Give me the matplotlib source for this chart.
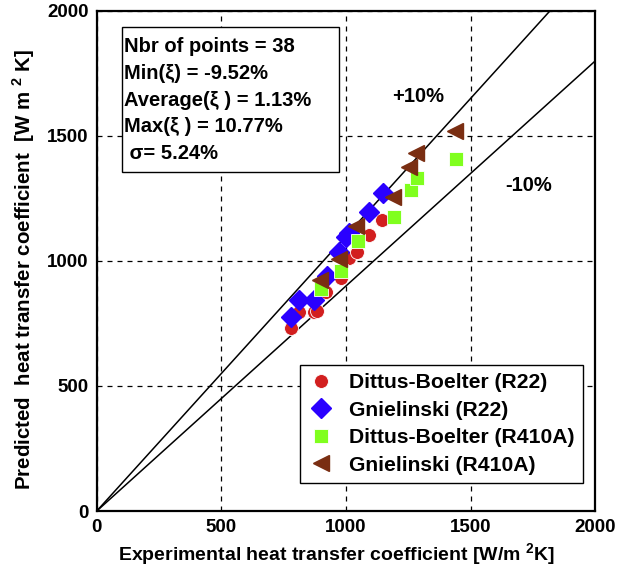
import matplotlib
matplotlib.use("Agg")
import matplotlib.pyplot as plt
from matplotlib.patches import Rectangle
import numpy as np

plt.rcParams["font.family"] = "Liberation Sans"
plt.rcParams["font.weight"] = "bold"
plt.rcParams["mathtext.fontset"] = "custom"
plt.rcParams["mathtext.rm"] = "Liberation Sans:bold"
plt.rcParams["mathtext.bf"] = "Liberation Sans:bold"

# experimental vs predicted heat transfer coefficient [W/m2K]
db_r22_exp = [781, 812, 872, 884, 919, 979, 1012, 1045, 1092, 1145]
db_r22_pred = [733, 797, 797, 800, 877, 931, 1011, 1037, 1104, 1164]

gn_r22_exp = [779, 812, 872, 923, 972, 999, 1010, 1092, 1148]
gn_r22_pred = [777, 844, 844, 939, 1037, 1097, 1110, 1197, 1273]

db_r410a_exp = [899, 979, 1048, 1192, 1259, 1285, 1441]
db_r410a_pred = [886, 961, 1079, 1175, 1284, 1331, 1408]

gn_r410a_exp = [896, 972, 1039, 1188, 1252, 1279, 1439]
gn_r410a_pred = [925, 1009, 1140, 1255, 1377, 1431, 1521]

stats_lines = ["Nbr of points = 38", "Min(ξ) = -9.52%", "Average(ξ ) = 1.13%",
               "Max(ξ ) = 10.77%", " σ= 5.24%"]

fig = plt.figure(figsize=(6.24, 5.71), dpi=100)
ax = fig.add_axes([0.155, 0.105, 0.799, 0.876])

# +/-10% bands
xl = np.array([0, 2000])
ax.plot(xl, 1.1 * xl, color="black", lw=1.1, zorder=2)
ax.plot(xl, 0.9 * xl, color="black", lw=1.1, zorder=2)

ax.plot(db_r22_exp, db_r22_pred, "o", color="#d21f1f", mec="white", mew=0.6, ms=10,
        label="Dittus-Boelter (R22)", zorder=3)
ax.plot(gn_r22_exp, gn_r22_pred, "D", color="#2a00ff", mec="#2a00ff", ms=10,
        label="Gnielinski (R22)", zorder=3)
ax.plot(db_r410a_exp, db_r410a_pred, "s", color="#80ff1e", mec="white", mew=0.6, ms=10,
        label="Dittus-Boelter (R410A)", zorder=4)
ax.plot(gn_r410a_exp, gn_r410a_pred, "<", color="#7a2e12", mec="#7a2e12", ms=12,
        label="Gnielinski (R410A)", zorder=4)

ax.set_xlim(0, 2000)
ax.set_ylim(0, 2000)
ax.set_xticks([0, 500, 1000, 1500, 2000])
ax.set_yticks([0, 500, 1000, 1500, 2000])
ax.grid(True, color="black", linestyle=(0, (4, 4)), lw=0.9)
ax.tick_params(direction="in", length=0, labelsize=13.5, pad=6)
for s in ax.spines.values():
    s.set_linewidth(1.6)

ax.set_xlabel("Experimental heat transfer coefficient [W/m $^{2}$K]", fontsize=14,
              fontweight="bold")
ax.set_ylabel("Predicted  heat transfer coefficient  [W m $^{2}$ K]", fontsize=14.8,
              fontweight="bold")
ax.xaxis.set_label_coords(0.482, -0.060)
ax.yaxis.set_label_coords(-0.12, 0.483)

ax.text(1184, 1656, "+10%", fontsize=14.5, fontweight="bold", va="center")
ax.text(1640, 1300, "-10%", fontsize=14.5, fontweight="bold", va="center")

# statistics box
ax.add_patch(Rectangle((100, 1356), 872, 580, fc="white", ec="black", lw=1.0, zorder=5))
for i, line in enumerate(stats_lines):
    ax.text(108, 1857 - i * 107, line, fontsize=14.5, fontweight="bold",
            va="center", ha="left", zorder=6)

leg = ax.legend(loc="lower right", bbox_to_anchor=(0.975, 0.056), fontsize=15.2,
                frameon=True, fancybox=False, edgecolor="black", handletextpad=0.7,
                borderpad=0.4, labelspacing=0.4, handlelength=1.2, framealpha=1,
                borderaxespad=0)
leg.get_frame().set_linewidth(1.0)

fig.savefig("out.png", dpi=100)
